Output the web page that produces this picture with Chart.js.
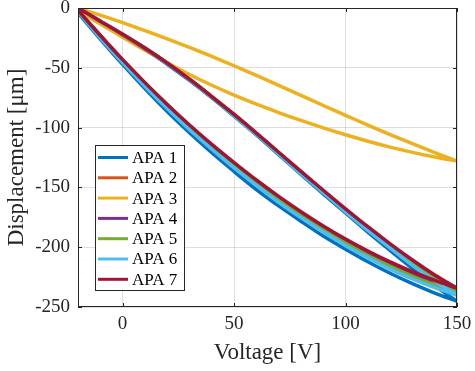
<!DOCTYPE html>
<html>
<head>
<meta charset="utf-8">
<script src="https://cdn.jsdelivr.net/npm/chart.js@4"></script>
<style>
  html, body { margin: 0; padding: 0; background: #fff; }
</style>
</head>
<body>
<canvas id="hystChart" width="475" height="371"></canvas>
<script>
// Voltage grid shared by every branch
const volt = [-20, -10, 0, 10, 20, 30, 40, 50, 60, 70, 80, 90, 100, 110, 120, 130, 140, 150];
const xTicks = [0, 50, 100, 150];
const apaLabels = ['APA 1', 'APA 2', 'APA 3', 'APA 4', 'APA 5', 'APA 6', 'APA 7'];
const apaColors = ['#0072BD', '#D95319', '#EDB120', '#7E2F8E', '#77AC30', '#4DBEEE', '#A2142F'];

// Displacement [um]: lower branch (voltage going up) and upper branch (coming back)
const apa1Lo = [-4, -26, -47.2, -67.4, -86.6, -104.3, -121, -136.7, -151.8, -165.5, -178.3, -190.7, -201.7, -212.2, -221.8, -230.5, -238.3, -245.2];
const apa1Hi = [0, -11, -22.5, -34, -47, -60.5, -75, -90.5, -106.1, -122.6, -139.1, -155.4, -171.4, -187.4, -202.7, -217.7, -232, -245.2];
const apa2Lo = [-2, -23, -43.7, -62.9, -81.1, -98.8, -115, -130.2, -144.8, -158.5, -171.8, -183.7, -194.7, -204.7, -213.8, -222, -229.3, -236];
const apa2Hi = [0, -11, -22, -33.5, -46, -59.5, -74, -89, -104.9, -121.1, -137.4, -153.4, -168.9, -183.9, -198.4, -212.1, -224.8, -236];
const apa3Lo = [-2, -13.3, -24.5, -35.4, -45.8, -55.6, -64.6, -72.8, -80.4, -87.4, -94, -100.2, -106, -111.4, -116.3, -120.7, -124.6, -128];
const apa3Hi = [0, -6, -12.3, -18.9, -25.8, -33, -40.5, -48.3, -56.4, -64.7, -73.1, -81.5, -89.8, -97.9, -105.8, -113.5, -120.9, -128];
const apa4Lo = [-2, -23, -43.5, -62.7, -81, -98.3, -114.5, -129.8, -144.5, -158.3, -171.2, -183.2, -194.3, -204.3, -213.5, -221.7, -229, -235.2];
const apa4Hi = [0, -11, -22.3, -34, -46.5, -60, -74.6, -89.6, -105.2, -121.2, -137.2, -153, -168.5, -183.4, -197.8, -211.3, -223.9, -235.2];
const apa5Lo = [-2.5, -24, -44.5, -64, -82.5, -100, -116.5, -132, -146.8, -160.7, -173.6, -185.7, -196.8, -206.9, -216, -224.3, -231.5, -237.5];
const apa5Hi = [0, -11, -22, -33.5, -46, -59.5, -74, -89, -104.8, -121, -137.2, -153.1, -168.8, -184, -198.6, -212.4, -225.3, -237.5];
const apa6Lo = [-3, -25, -45.7, -65.4, -84.1, -101.8, -118, -133.7, -148.3, -162.5, -175.3, -187.2, -198.7, -208.7, -218.3, -226.5, -233.8, -240.2];
const apa6Hi = [0, -11, -22, -33.5, -46.5, -60, -74.5, -90, -105.6, -122.1, -138.6, -154.4, -170.4, -185.9, -200.7, -215.2, -228.2, -240.2];
const apa7Lo = [-2, -23, -43.2, -62.4, -80.6, -97.8, -114, -129.2, -143.8, -157.5, -170.3, -182.2, -193.2, -203.2, -212.3, -220.5, -227.8, -234.2];
const apa7Hi = [0, -11, -22, -33.5, -46, -59.5, -74, -89, -104.6, -120.6, -136.6, -152.4, -167.9, -182.9, -197.2, -210.7, -223.2, -234.2];

const branches = [
  [apa1Lo, apa1Hi], [apa2Lo, apa2Hi], [apa3Lo, apa3Hi], [apa4Lo, apa4Hi],
  [apa5Lo, apa5Hi], [apa6Lo, apa6Hi], [apa7Lo, apa7Hi]
];

// lower branch left->right, then upper branch back right->left
function loop(lo, hi) {
  const pts = volt.map((v, i) => ({x: v, y: lo[i]}));
  for (let i = volt.length - 1; i >= 0; i--) pts.push({x: volt[i], y: hi[i]});
  return pts;
}

const FONT = '"Liberation Serif", "Times New Roman", serif';
const INK = '#262626';

// box around the axes with inward ticks, like matlab
const axesBox = {
  id: 'axesBox',
  afterDatasetsDraw(chart) {
    const {ctx, chartArea: a, scales} = chart;
    ctx.save();
    ctx.strokeStyle = INK;
    ctx.lineWidth = 1;
    ctx.strokeRect(a.left + 0.5, a.top + 0.5, a.right - a.left - 1, a.bottom - a.top - 1);
    ctx.beginPath();
    scales.x.ticks.forEach(t => {
      const px = Math.round(scales.x.getPixelForValue(t.value)) + 0.5;
      ctx.moveTo(px, a.bottom); ctx.lineTo(px, a.bottom - 4);
      ctx.moveTo(px, a.top); ctx.lineTo(px, a.top + 4);
    });
    scales.y.ticks.forEach(t => {
      const py = Math.round(scales.y.getPixelForValue(t.value)) + 0.5;
      ctx.moveTo(a.left, py); ctx.lineTo(a.left + 4, py);
      ctx.moveTo(a.right, py); ctx.lineTo(a.right - 4, py);
    });
    ctx.stroke();
    ctx.restore();
  }
};

// legend drawn inside the plot, lower left
const legendBox = {
  id: 'legendBox',
  afterDraw(chart) {
    const {ctx, chartArea: a} = chart;
    const w = 89, h = 145, rowH = 20.3;
    const x0 = a.left + 17, y0 = a.bottom - 17 - h;
    ctx.save();
    ctx.fillStyle = '#fff';
    ctx.fillRect(x0, y0, w, h);
    ctx.strokeStyle = INK;
    ctx.lineWidth = 1;
    ctx.strokeRect(x0 + 0.5, y0 + 0.5, w, h);
    ctx.font = '17px ' + FONT;
    ctx.textBaseline = 'middle';
    chart.data.datasets.forEach((ds, i) => {
      const yy = y0 + 12.5 + i * rowH;
      ctx.strokeStyle = ds.borderColor;
      ctx.lineWidth = 3;
      ctx.beginPath();
      ctx.moveTo(x0 + 3, yy);
      ctx.lineTo(x0 + 33, yy);
      ctx.stroke();
      ctx.fillStyle = '#000';
      ctx.fillText(ds.label, x0 + 37, yy + 1);
    });
    ctx.restore();
  }
};

const ctx = document.getElementById('hystChart').getContext('2d');
const hystChart = new Chart(ctx, {
  type: 'scatter',
  data: {
    datasets: apaLabels.map((label, i) => ({
      label: label,
      data: loop(branches[i][0], branches[i][1]),
      showLine: true,
      borderColor: apaColors[i],
      backgroundColor: apaColors[i],
      borderWidth: 3.5,
      pointRadius: 0,
      tension: 0.3,
      order: apaLabels.length - i  // APA 7 on top
    }))
  },
  options: {
    responsive: false,
    animation: false,
    devicePixelRatio: 1,
    layout: { padding: { top: 8, right: 18, left: 0, bottom: 0 } },
    plugins: {
      legend: { display: false },
      tooltip: { enabled: false }
    },
    scales: {
      x: {
        type: 'linear',
        min: -20,
        max: 150,
        afterBuildTicks: s => { s.ticks = xTicks.map(v => ({value: v})); },
        afterFit: s => { s.height = 64; s.paddingLeft = 0; s.paddingRight = 0; },
        grid: { color: 'rgba(38,38,38,0.15)', drawTicks: false },
        border: { display: false },
        ticks: { padding: 6, color: INK, font: { family: FONT, size: 19 } },
        title: {
          display: true,
          text: 'Voltage [V]',
          color: INK,
          font: { family: FONT, size: 23 },
          padding: { top: 0, bottom: 4 }
        }
      },
      y: {
        type: 'linear',
        min: -250,
        max: 0,
        ticks: { stepSize: 50, padding: 8, color: INK, font: { family: FONT, size: 19 } },
        afterFit: s => { s.width = 78; s.paddingTop = 0; s.paddingBottom = 0; },
        grid: { color: 'rgba(38,38,38,0.15)', drawTicks: false },
        border: { display: false },
        title: {
          display: true,
          text: 'Displacement [μm]',
          color: INK,
          font: { family: FONT, size: 23 },
          padding: { top: 3, bottom: 0 }
        }
      }
    }
  },
  plugins: [axesBox, legendBox]
});
</script>
</body>
</html>
